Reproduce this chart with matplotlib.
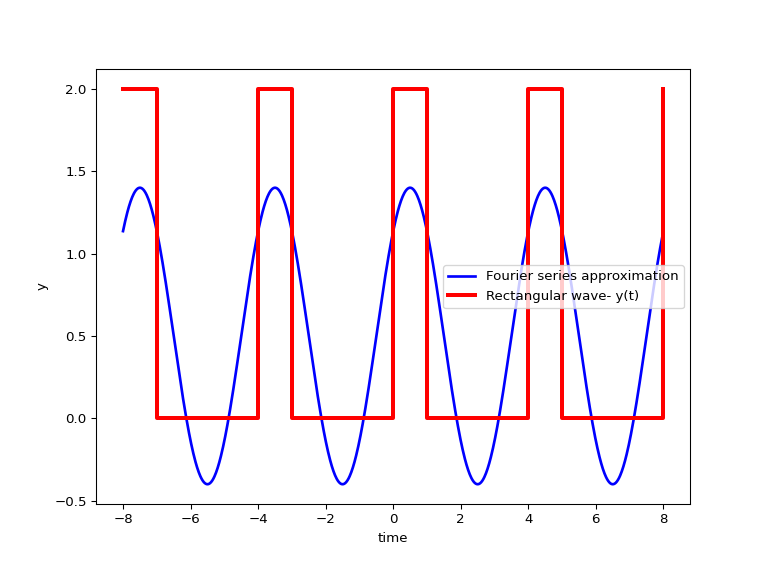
import matplotlib
matplotlib.use('Agg')
import matplotlib.pyplot as plt
import numpy as np

# rectangular wave corners (time, level)
rect_t = [-8, -7, -7, -4, -4, -3, -3, 0, 0, 1, 1, 4, 4, 5, 5, 8, 8]
rect_y = [2, 2, 0, 0, 2, 2, 0, 0, 2, 2, 0, 0, 2, 2, 0, 0, 2]

# first-harmonic fourier coefficients
dc_term = 0.5
amp1 = 0.9
period = 4.0
peak_at = 0.5

t = np.linspace(-8, 8, 1000)
y_fourier = dc_term + amp1*np.cos(2*np.pi*(t - peak_at)/period)

fig = plt.figure(figsize=(8, 6), dpi=96)
plt.subplots_adjust(left=0.125, right=0.899, top=0.88, bottom=0.125)
plt.plot(t, y_fourier, c='b', lw=2, label='Fourier series approximation')
plt.plot(rect_t, rect_y, c='r', lw=3, label='Rectangular wave- y(t)')
plt.xlabel('time')
plt.ylabel('y')
plt.legend(loc='center right')
plt.savefig('out.png')
